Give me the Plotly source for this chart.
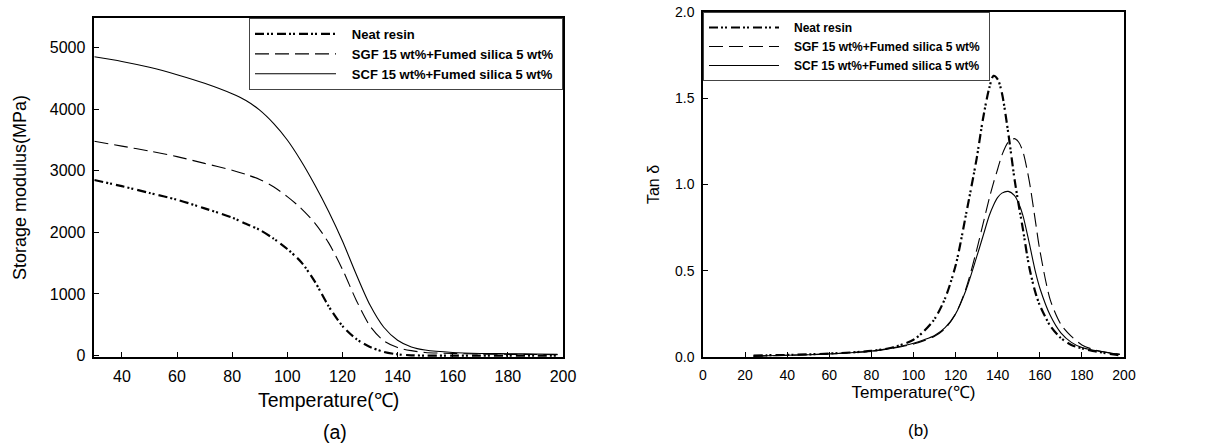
import plotly.graph_objects as go

# ---------------- data: (a) storage modulus ----------------
temp_a = [30, 40, 50, 60, 70, 80, 85, 90, 95, 100, 105, 110, 115, 120, 125,
          130, 135, 140, 145, 150, 160, 170, 180, 190, 198]
neat_a = [2850, 2750, 2640, 2530, 2390, 2240, 2140, 2040, 1900, 1730, 1520, 1200,
          800, 480, 270, 140, 60, 20, 5, 0, 0, 0, 0, 0, 0]
sgf_a = [3480, 3400, 3320, 3230, 3120, 3010, 2940, 2860, 2740, 2580, 2390, 2150,
         1830, 1400, 900, 480, 240, 130, 80, 50, 35, 25, 20, 18, 15]
scf_a = [4850, 4775, 4680, 4560, 4420, 4250, 4140, 3985, 3770, 3500, 3160, 2770,
         2340, 1860, 1320, 820, 460, 250, 140, 90, 50, 35, 30, 25, 20]

# ---------------- data: (b) tan delta ----------------
temp_b = [24, 30, 40, 50, 60, 70, 80, 90, 100, 105, 110, 115, 120, 125, 130, 133,
          136, 138, 140, 142, 145, 148, 150, 152, 155, 158, 160, 165, 170, 175,
          180, 185, 190, 195, 198]
neat_b = [0.008, 0.01, 0.012, 0.015, 0.02, 0.026, 0.035, 0.055, 0.10, 0.15, 0.22,
          0.34, 0.53, 0.83, 1.15, 1.38, 1.56, 1.63, 1.61, 1.53, 1.30, 1.03, 0.88,
          0.74, 0.52, 0.37, 0.30, 0.18, 0.11, 0.07, 0.05, 0.035, 0.025, 0.015, 0.01]
sgf_b = [0.005, 0.007, 0.010, 0.013, 0.018, 0.025, 0.033, 0.050, 0.075, 0.095, 0.12,
         0.165, 0.25, 0.40, 0.62, 0.77, 0.92, 1.01, 1.09, 1.17, 1.245, 1.266, 1.245,
         1.19, 1.02, 0.78, 0.62, 0.33, 0.19, 0.12, 0.07, 0.045, 0.03, 0.02, 0.015]
scf_b = [0.005, 0.007, 0.010, 0.013, 0.018, 0.025, 0.035, 0.053, 0.08, 0.10, 0.125,
         0.17, 0.25, 0.39, 0.58, 0.70, 0.82, 0.88, 0.925, 0.95, 0.96, 0.935, 0.89,
         0.82, 0.66, 0.49, 0.40, 0.24, 0.14, 0.085, 0.055, 0.04, 0.03, 0.02, 0.015]

names = ["Neat resin", "SGF 15 wt%+Fumed silica 5 wt%", "SCF 15 wt%+Fumed silica 5 wt%"]
x_title = "Temperature(℃)"
y_title_a = "Storage modulus(MPa)"
y_title_b = "Tan δ"
panel_labels = ["(a)", "(b)"]

FONT = "Arial, Liberation Sans, sans-serif"
styles = [
    dict(color="black", width=2.2, dash="9px,3px,2px,2px,2px,4px"),
    dict(color="black", width=1.1, dash="14px,6px"),
    dict(color="black", width=1.1, dash="solid"),
]
NB = "\u00a0"

fig = go.Figure()
for name, ys, st in zip(names, [neat_a, sgf_a, scf_a], styles):
    fig.add_trace(go.Scatter(x=temp_a, y=ys, mode="lines",
                             name=NB * 3 + "<b>%s</b>" % name + NB,
                             line=dict(shape="spline", smoothing=0.8, **st),
                             xaxis="x", yaxis="y", legend="legend"))
for name, ys, st in zip(names, [neat_b, sgf_b, scf_b], styles):
    fig.add_trace(go.Scatter(x=temp_b, y=ys, mode="lines",
                             name=NB * 3 + "<b>%s</b>" % name + NB,
                             line=dict(shape="spline", smoothing=0.8, **st),
                             xaxis="x2", yaxis="y2", legend="legend2"))

# the page body margin is removed (see post_script), so figure pixels = page pixels
W, H = 1219, 446
def px_x(p):
    return p / W
def px_y(p):
    return 1 - p / H

def axis_style(tick_size):
    return dict(showline=True, linecolor="black", linewidth=1.5, mirror=True,
                ticks="inside", ticklen=5, tickwidth=1, tickcolor="black",
                showgrid=False, zeroline=False, automargin=False,
                ticklabelstandoff=4, ticklabeloverflow="allow",
                tickfont=dict(family=FONT, size=tick_size, color="black"))

fig.update_layout(
    width=W, height=H,
    margin=dict(l=0, r=0, t=0, b=0, autoexpand=False),
    paper_bgcolor="white", plot_bgcolor="white",
    font=dict(family=FONT, color="black"),
    xaxis=dict(domain=[px_x(94.3), px_x(563)], range=[30, 200],
               tickvals=list(range(40, 201, 20)), anchor="y",
               title=dict(text=x_title, standoff=9,
                          font=dict(family=FONT, size=19.5, color="black")),
               **axis_style(16)),
    yaxis=dict(domain=[px_y(357), px_y(18)], range=[-23, 5480],
               tickvals=list(range(0, 5001, 1000)), anchor="x",
               title=dict(text=y_title_a, standoff=18,
                          font=dict(family=FONT, size=18, color="black")),
               **axis_style(16)),
    xaxis2=dict(domain=[px_x(703), px_x(1124)], range=[0, 200],
                tickvals=list(range(0, 201, 20)), anchor="y2",
                title=dict(text=x_title, standoff=5,
                           font=dict(family=FONT, size=17, color="black")),
                **axis_style(14)),
    yaxis2=dict(domain=[px_y(357), px_y(12)], range=[0, 2.0],
                tickvals=[0, 0.5, 1.0, 1.5, 2.0], tickformat=".1f", anchor="x2",
                title=dict(text=y_title_b, standoff=11,
                           font=dict(family=FONT, size=16, color="black")),
                **axis_style(14)),
    legend=dict(x=px_x(563), xanchor="right", y=px_y(18), yanchor="top",
                bgcolor="white", bordercolor="#444", borderwidth=1,
                itemwidth=81, tracegroupgap=0,
                font=dict(family=FONT, size=13, color="black")),
    legend2=dict(x=px_x(703), xanchor="left", y=px_y(12), yanchor="top",
                 bgcolor="white", bordercolor="#444", borderwidth=1,
                 itemwidth=70, tracegroupgap=0,
                 font=dict(family=FONT, size=12, color="black")),
    showlegend=True,
)

for lab, cx, cy, fs in zip(panel_labels, [335, 918], [431.5, 430], [19.5, 17]):
    fig.add_annotation(text=lab, x=px_x(cx), y=px_y(cy), xref="paper", yref="paper",
                       xanchor="center", yanchor="middle", showarrow=False,
                       font=dict(family=FONT, size=fs, color="black"))

fig.write_html("out.html", config={"displayModeBar": False},
               post_script="document.body.style.margin='0';"
                           "document.body.style.overflow='hidden';")
